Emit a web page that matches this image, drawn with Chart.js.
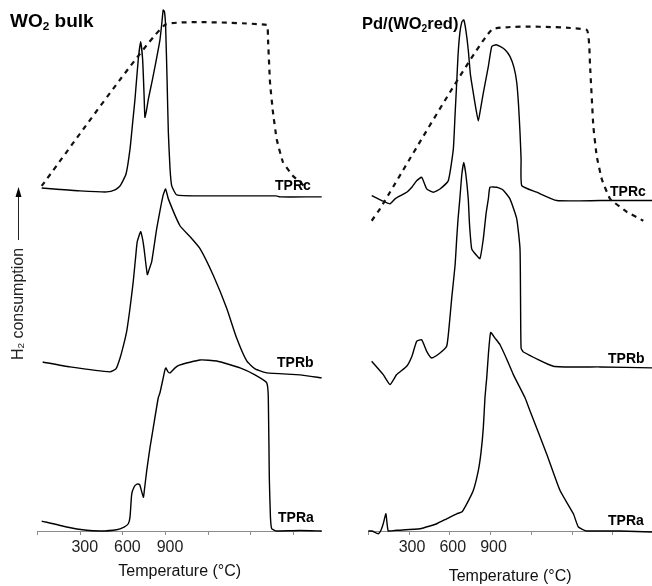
<!DOCTYPE html>
<html lang="en">
<head>
<meta charset="UTF-8">
<title>TPR profiles</title>
<style>
  body { margin: 0; background: #ffffff; }
  .wrap { position: relative; width: 652px; height: 586px; }
  canvas { position: absolute; top: 0; }
  #left { left: 0; }
  #right { left: 326px; }
</style>
</head>
<body>
<div class="wrap">
  <canvas id="left" width="326" height="586"></canvas>
  <canvas id="right" width="326" height="586"></canvas>
</div>

<script src="https://cdn.jsdelivr.net/npm/chart.js@4.4.1/dist/chart.umd.min.js"></script>
<script>
// tick marks on the temperature axis, and the ones that get a label
const tickValues = [0, 300, 600, 900, 1200, 1500, 1800];
const labelledTicks = [300, 600, 900];

// WO2 bulk panel (y = signal height above the axis, curves are stacked)
const wo2TprcX = [28,157,298,486,544,580,622,650,671,685,708,725,739,749,755,765,779,805,826,861,875,884,893,901,911,920,932,944,979,1143,1678,1706,1939,2000];
const wo2TprcY = [345,343.5,342,341,343,347,359,384,414,434,474,492,474,439,416,422,434,452,467,494,512,524,522,507,454,401,364,347,338,337,337,336,336,336];
const wo2TempX = [28,896,1613,1622,1636,1657,1683,1727,1798,1847,1882];
const wo2TempY = [347,509,509,494,451,421,394,371,357,351,346];
const wo2TprbX = [35,227,509,551,580,608,627,650,673,692,701,725,738,749,772,787,803,838,861,884,901,920,1002,1073,1143,1237,1331,1401,1472,1531,1613,1847,2000];
const wo2TprbY = [170,165,160,163,174,189,201,224,251,279,291,301,294,284,258,264,271,304,322,338,344,334,307,296,284,257,224,194,171,163,159,157,154];
const wo2TpraX = [28,204,345,439,556,608,638,650,662,678,697,714,720,744,752,768,791,814,849,861,884,896,903,918,932,967,1002,1143,1261,1425,1530,1613,1624,1631,1639,1648,1683,1847,2000];
const wo2TpraY = [10,4,0.7,0,1.3,4,7.3,14,37,44,47,47,46,34,42,61,84,104,134,139,154,162,164,160,159,164,167,172,171,164,157,149,134,54,14,2.3,0,0.5,0];

// Pd/(WO2red) panel
const pdTprcX = [25,99,160,197,233,283,322,356,393,430,479,528,589,626,639,651,661,674,689,703,718,736,752,773,793,810,826,847,884,909,941,970,1007,1043,1073,1093,1106,1117,1125,1130,1240,1388,1706,2089];
const pdTprcY = [337.3,332.3,329,334,337,340.7,346,352.3,355.7,344,340.7,344,352.3,384,419,451,479,500.7,512,514,504,484,459,440.7,424,412.3,424,440.7,467.3,487.3,489,487.3,484,477.3,466,451,429,401,374,347.3,340.7,332.3,332.3,332.3];
const pdTempX = [25,86,909,1608,1633,1657,1682,1719,1780,1903,2025];
const pdTempY = [312,324,504,504,467,407,377,354,334,321,312];
const pdTprbX = [25,110,160,209,283,322,356,393,430,467,528,577,594,614,639,651,661,674,689,703,718,736,745,761,785,822,847,867,884,896,946,992,1043,1093,1117,1121,1125,1142,1363,1706,2089];
const pdTprbY = [170.7,157.3,147.3,157.3,165.7,176,190.7,192.3,180.7,174,179,185.7,204,234,267.3,294,314,334,359,370.7,359,334,309,284,279,274,294,319,334,345.7,345.7,343,334,314,284,234,184,180,165.7,165,164];
const pdTpraX = [0,27,74,94,110,130,147,209,381,454,504,577,651,688,725,773,810,830,847,859,872,885,901,933,970,1022,1068,1154,1191,1314,1412,1510,1547,1608,1854,2089];
const pdTpraY = [0,0,-2.7,1,7.3,17.3,0,0.7,2.3,5,7.3,12.3,17.3,19,27.3,40.7,60.7,79,104,134,154,179,199.7,194,187.3,172,157.3,134,120.7,77.3,40.7,17.3,4,0,0,-1];

Chart.defaults.font.family = "'Liberation Sans', Arial, sans-serif";

function toPoints(xs, ys) {
    return xs.map((x, i) => ({ x: x, y: ys[i] }));
}

function solid(xs, ys) {
    return { data: toPoints(xs, ys), borderColor: '#000', borderWidth: 1.4, clip: false };
}

function dashed(xs, ys) {
    return { data: toPoints(xs, ys), borderColor: '#111', borderWidth: 2.2, borderDash: [5, 5], tension: 0.1, clip: false };
}

// draws text runs (with lowered small "2")
function drawRuns(ctx, runs, size, bold, x, y, align) {
    const fam = Chart.defaults.font.family;
    const w = s => (bold ? 'bold ' : '') + s + 'px ' + fam;
    let total = 0;
    runs.forEach(r => { ctx.font = w(r[1] ? size * 0.62 : size); total += ctx.measureText(r[0]).width; });
    let cx = align === 'center' ? x - total / 2 : x;
    runs.forEach(r => {
        ctx.font = w(r[1] ? size * 0.62 : size);
        ctx.fillText(r[0], cx, r[1] ? y + size * 0.18 : y);
        cx += ctx.measureText(r[0]).width;
    });
}

// panel titles, curve names, and the y label with its arrow
const annotate = {
    id: 'annotate',
    afterDraw(chart, args, opts) {
        const ctx = chart.ctx;
        ctx.save();
        ctx.fillStyle = '#000';
        ctx.textAlign = 'left';
        ctx.textBaseline = 'alphabetic';
        (opts.texts || []).forEach(t => drawRuns(ctx, t.runs, t.size, t.bold, t.x, t.y, 'left'));
        if (opts.yLabel) {
            const a = opts.yLabel;
            ctx.save();
            ctx.translate(a.x, a.y);
            ctx.rotate(-Math.PI / 2);
            ctx.fillStyle = '#222';
            ctx.textBaseline = 'middle';
            drawRuns(ctx, [['H'], ['2', 1], [' consumption']], 16, false, 0, 0, 'center');
            ctx.restore();
            ctx.strokeStyle = '#222';
            ctx.lineWidth = 1;
            ctx.beginPath();
            ctx.moveTo(a.x, a.arrowFrom);
            ctx.lineTo(a.x, a.arrowTo + 6);
            ctx.stroke();
            ctx.beginPath();
            ctx.moveTo(a.x, a.arrowTo);
            ctx.lineTo(a.x - 3, a.arrowTo + 10);
            ctx.lineTo(a.x + 3, a.arrowTo + 10);
            ctx.closePath();
            ctx.fill();
        }
        ctx.restore();
    }
};

function panelOptions(pad, xMax, labelOffset, titlePad, annot) {
    return {
        responsive: false,
        animation: false,
        devicePixelRatio: 1,
        layout: { padding: pad },
        elements: { point: { radius: 0 }, line: { tension: 0.15, fill: false } },
        plugins: {
            legend: { display: false },
            tooltip: { enabled: false },
            annotate: annot
        },
        scales: {
            x: {
                type: 'linear',
                min: 0,
                max: xMax,
                afterBuildTicks: scale => { scale.ticks = tickValues.map(v => ({ value: v })); },
                grid: { display: true, drawOnChartArea: false, drawTicks: true, tickLength: 4, color: '#8c8c8c' },
                border: { display: true, color: '#8c8c8c', width: 1 },
                ticks: {
                    autoSkip: false,
                    maxRotation: 0,
                    padding: 3,
                    labelOffset: labelOffset,
                    color: '#222',
                    font: { size: 16 },
                    callback: v => labelledTicks.includes(v) ? String(v) : ''
                },
                title: { display: true, text: 'Temperature (°C)', color: '#111', font: { size: 16 }, padding: titlePad }
            },
            y: { display: false, min: 0, max: 534 }
        }
    };
}

new Chart(document.getElementById('left'), {
    type: 'line',
    data: {
        datasets: [
            dashed(wo2TempX, wo2TempY),
            solid(wo2TprcX, wo2TprcY),
            solid(wo2TprbX, wo2TprbY),
            solid(wo2TpraX, wo2TpraY)
        ]
    },
    options: panelOptions({ left: 37.7, right: 4.3, top: 0, bottom: 0 }, 2000, 4.5, { top: 2.2, bottom: 4.4 }, {
        texts: [
            { runs: [['WO'], ['2', 1], [' bulk']], size: 19, bold: true, x: 10, y: 27 },
            { runs: [['TPRc']], size: 14, bold: true, x: 275, y: 190 },
            { runs: [['TPRb']], size: 14, bold: true, x: 277, y: 367 },
            { runs: [['TPRa']], size: 14, bold: true, x: 278, y: 522 }
        ],
        yLabel: { x: 18.5, y: 304, arrowFrom: 240, arrowTo: 187 }
    }),
    plugins: [annotate]
});

new Chart(document.getElementById('right'), {
    type: 'line',
    data: {
        datasets: [
            dashed(pdTempX, pdTempY),
            solid(pdTprcX, pdTprcY),
            solid(pdTprbX, pdTprbY),
            solid(pdTpraX, pdTpraY)
        ]
    },
    options: panelOptions({ left: 42.3, right: 0, top: 0, bottom: 0 }, 2089, 3, { top: 6.6, bottom: 0 }, {
        texts: [
            { runs: [['Pd/(WO'], ['2', 1], ['red)']], size: 16.5, bold: true, x: 36, y: 29 },
            { runs: [['TPRc']], size: 14, bold: true, x: 284, y: 196 },
            { runs: [['TPRb']], size: 14, bold: true, x: 282, y: 363 },
            { runs: [['TPRa']], size: 14, bold: true, x: 282, y: 525 }
        ]
    }),
    plugins: [annotate]
});
</script>
</body>
</html>
